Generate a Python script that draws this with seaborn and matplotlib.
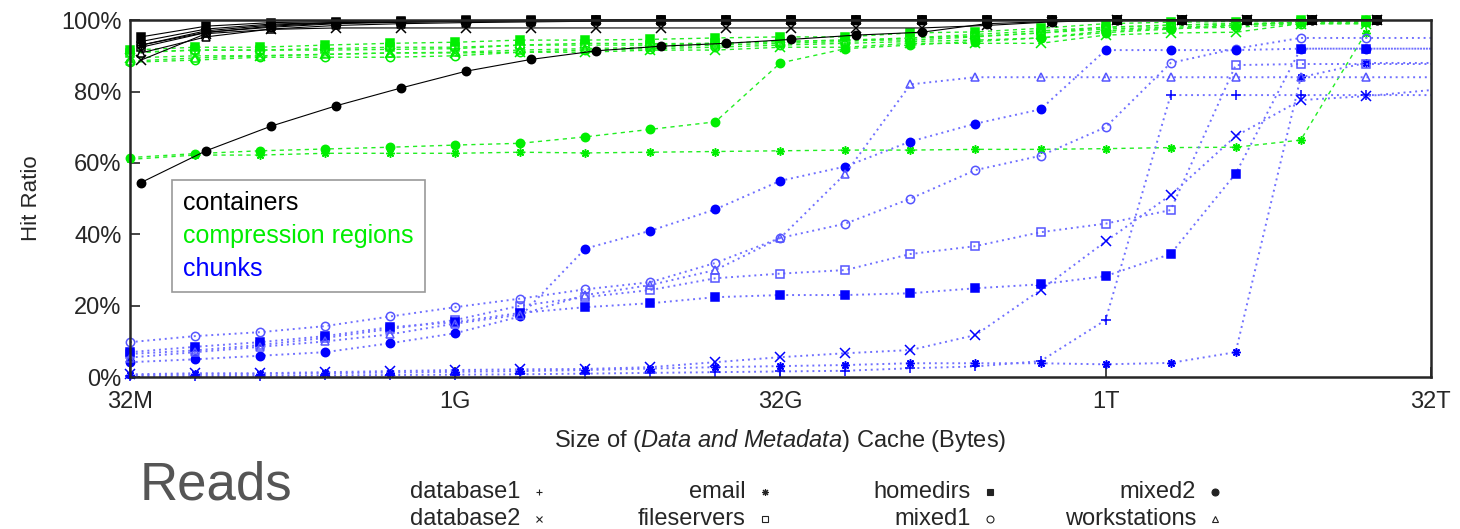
import matplotlib
matplotlib.use("Agg")
import matplotlib.pyplot as plt
import seaborn as sns
import pandas as pd
from matplotlib.lines import Line2D

# x: cache size in bytes, one point per power of two (32M .. 16T)
cache_sizes = [2 ** p for p in range(25, 45)]
edge_size = 2 ** 45                 # chunk curves run on to the right border
container_overhead = 1.125          # container points sit a bit to the right
tick_sizes = [2 ** 25, 2 ** 30, 2 ** 35, 2 ** 40, 2 ** 45]
tick_labels = ["32M", "1G", "32G", "1T", "32T"]
yticks = [0, 20, 40, 60, 80, 100]

workloads = ["database1", "database2", "email", "fileservers",
             "homedirs", "mixed1", "mixed2", "workstations"]

# containers (black)
cont_database1 = [94.0, 97.5, 98.9, 99.3, 99.5, 99.7, 99.8, 99.9, 99.9, 100, 100, 100, 100, 100, 100, 100, 100, 100, 100, 100]
cont_database2 = [88.8, 96.2, 97.4, 97.8, 97.8, 97.8, 97.8, 97.8, 97.8, 97.8, 97.8, 97.8, 97.8, 98.5, 99.5, 100, 100, 100, 100, 100]
cont_email = [93.0, 97.0, 98.6, 99.3, 99.6, 99.8, 99.9, 100, 100, 100, 100, 100, 100, 100, 100, 100, 100, 100, 100, 100]
cont_fileservers = [92.4, 96.5, 98.3, 99.2, 99.5, 99.7, 99.8, 99.9, 100, 100, 100, 100, 100, 100, 100, 100, 100, 100, 100, 100]
cont_homedirs = [95.3, 98.3, 99.3, 99.6, 99.8, 99.9, 100, 100, 100, 100, 100, 100, 100, 100, 100, 100, 100, 100, 100, 100]
cont_mixed1 = [93.0, 96.6, 98.0, 99.0, 99.4, 99.6, 99.8, 99.9, 100, 100, 100, 100, 100, 100, 100, 100, 100, 100, 100, 100]
cont_mixed2 = [54.5, 63.4, 70.3, 76.0, 81.0, 85.7, 89.0, 91.4, 92.7, 93.5, 94.6, 95.8, 96.6, 99.0, 99.6, 100, 100, 100, 100, 100]
cont_workstations = [90.8, 95.3, 97.5, 98.5, 99.0, 99.3, 99.5, 99.7, 99.8, 99.9, 100, 100, 100, 100, 100, 100, 100, 100, 100, 100]

# compression regions (green)
cr_database1 = [91.0, 91.6, 91.6, 91.6, 91.8, 92.0, 93.0, 93.5, 93.4, 93.5, 94.0, 94.4, 94.4, 95.3, 96.4, 98.0, 98.6, 99.0, 99.0, 99.0]
cr_database2 = [89.4, 90.0, 90.0, 90.4, 90.8, 90.8, 91.0, 91.0, 91.6, 91.6, 92.4, 92.4, 93.5, 93.5, 93.5, 95.8, 96.4, 96.6, 99.0, 99.0]
cr_email = [61.0, 62.2, 62.2, 62.7, 62.7, 62.7, 63.0, 62.8, 63.0, 63.2, 63.4, 63.6, 63.6, 63.8, 63.8, 64.0, 64.3, 64.4, 66.4, 96.4]
cr_fileservers = [90.8, 91.6, 91.6, 92.0, 92.4, 92.4, 93.0, 93.0, 93.0, 93.5, 94.0, 94.4, 95.0, 95.5, 96.4, 97.5, 98.0, 98.6, 99.4, 99.6]
cr_homedirs = [91.6, 92.4, 92.4, 93.0, 93.5, 93.8, 94.4, 94.4, 94.6, 95.0, 95.3, 95.3, 96.4, 96.7, 97.7, 99.0, 99.4, 99.6, 100, 100]
cr_mixed1 = [88.2, 88.8, 89.6, 89.6, 89.6, 90.0, 91.0, 91.6, 92.0, 92.4, 93.0, 93.5, 94.0, 94.4, 95.0, 97.0, 97.7, 98.0, 99.0, 99.4]
cr_mixed2 = [61.5, 62.6, 63.4, 63.9, 64.4, 65.0, 65.5, 67.3, 69.4, 71.5, 88.0, 92.0, 93.0, 94.0, 95.0, 96.5, 97.5, 98.5, 99.5, 100]
cr_workstations = [88.5, 89.4, 90.0, 90.4, 90.8, 91.0, 91.6, 92.0, 92.4, 93.0, 93.5, 94.0, 95.0, 96.0, 97.0, 98.0, 98.6, 99.0, 99.4, 99.6]

# chunks (blue), last value is at the right border
ch_database1 = [0.3, 0.3, 0.4, 0.5, 0.6, 0.7, 0.8, 1.0, 1.2, 1.4, 1.6, 1.8, 2.5, 3.0, 4.5, 16, 79, 79, 79, 79, 79]
ch_database2 = [0.8, 1.1, 1.1, 1.4, 1.7, 2.0, 2.2, 2.3, 2.8, 4.2, 5.6, 6.7, 7.6, 11.8, 24.4, 38, 51, 67.5, 77.6, 78.7, 80.4]
ch_email = [0.6, 0.8, 0.9, 1.1, 1.3, 1.5, 1.7, 2.0, 2.4, 2.8, 3.1, 3.4, 3.9, 3.9, 3.9, 3.6, 4.0, 7.0, 84, 88, 88]
ch_fileservers = [6.5, 7.5, 9.0, 11, 13.5, 16, 20, 22.4, 24.4, 27.7, 29, 30, 34.5, 36.7, 40.6, 43, 46.8, 87.4, 87.7, 87.7, 87.7]
ch_homedirs = [7.0, 8.5, 9.8, 11.5, 14, 15.4, 18, 19.6, 20.7, 22.4, 23, 23, 23.5, 24.9, 26, 28.3, 34.5, 57, 92, 92, 92]
ch_mixed1 = [9.8, 11.5, 12.6, 14.3, 17, 19.6, 22, 24.6, 26.6, 32, 39, 43, 50, 58, 62, 70, 88, 92, 95, 95, 95]
ch_mixed2 = [4.2, 5, 6, 7, 9.5, 12.3, 17, 36, 41, 47, 55, 59, 66, 71, 75, 91.6, 91.6, 91.6, 92, 92, 92]
ch_workstations = [5.5, 7, 8.5, 10, 12, 15, 17.5, 23, 25.8, 30, 39, 57, 82, 84, 84, 84, 84, 84, 84, 84, 84]

containers = [cont_database1, cont_database2, cont_email, cont_fileservers,
              cont_homedirs, cont_mixed1, cont_mixed2, cont_workstations]
regions = [cr_database1, cr_database2, cr_email, cr_fileservers,
           cr_homedirs, cr_mixed1, cr_mixed2, cr_workstations]
chunks = [ch_database1, ch_database2, ch_email, ch_fileservers,
          ch_homedirs, ch_mixed1, ch_mixed2, ch_workstations]

# marker, filled?
marker_style = {
    "database1": ("+", True),
    "database2": ("x", True),
    "email": ((8, 2, 0), True),
    "fileservers": ("s", False),
    "homedirs": ("s", True),
    "mixed1": ("o", False),
    "mixed2": ("o", True),
    "workstations": ("^", False),
}

# long table
rows = []
for name, vals in zip(workloads, containers):
    for s, v in zip(cache_sizes, vals):
        rows.append(("containers", name, s * container_overhead, v))
for name, vals in zip(workloads, regions):
    for s, v in zip(cache_sizes, vals):
        rows.append(("compression regions", name, s, v))
for name, vals in zip(workloads, chunks):
    for s, v in zip(cache_sizes + [edge_size], vals):
        rows.append(("chunks", name, s, v))
df = pd.DataFrame(rows, columns=["group", "workload", "size", "ratio"])

sns.set_style("ticks")
plt.rcParams["font.family"] = ["Liberation Sans Narrow", "Liberation Sans", "DejaVu Sans"]
plt.rcParams["mathtext.fontset"] = "custom"
plt.rcParams["mathtext.rm"] = "Liberation Sans"
plt.rcParams["mathtext.it"] = "Liberation Sans:italic"

fig = plt.figure(figsize=(14.6, 5.29), dpi=100)
ax = fig.add_axes([0.089, 0.287, 0.891, 0.675])

# line colour, marker colour, dash, width
group_style = {
    "compression regions": dict(color="#22ee22", mcolor="#00ee00", linestyle=(0, (3, 3)), lw=1.0),
    "chunks": dict(color="#7070ff", mcolor="#0000ff", linestyle=(0, (1, 2)), lw=1.4),
    "containers": dict(color="#000000", mcolor="#000000", linestyle="-", lw=0.8),
}

for group in ["compression regions", "chunks", "containers"]:
    st = group_style[group]
    for name in workloads:
        sub = df[(df.group == group) & (df.workload == name)]
        mk, filled = marker_style[name]
        kw = {}
        if group == "chunks":
            kw["markevery"] = list(range(len(cache_sizes)))
        mc = st["mcolor"]
        if group == "chunks" and not filled:
            mc = "#5555ff"
        sns.lineplot(data=sub, x="size", y="ratio", ax=ax, estimator=None,
                     color=st["color"], linestyle=st["linestyle"], linewidth=st["lw"],
                     marker=mk, markersize=7 if mk in ("+", "x") else 6,
                     markerfacecolor=mc if filled else "none",
                     markeredgecolor=mc, markeredgewidth=1.1,
                     clip_on=False, legend=False, **kw)

ax.set_xscale("log", base=2)
ax.set_xlim(2 ** 25, 2 ** 45)
ax.set_ylim(0, 100)
ax.set_xticks(tick_sizes)
ax.set_xticklabels(tick_labels)
ax.minorticks_off()
ax.set_yticks(yticks)
ax.set_yticklabels([f"{v}%" for v in yticks])
ax.tick_params(direction="in", length=7, width=1.2, labelsize=17)
ax.tick_params(axis="x", pad=10)
ax.tick_params(axis="y", pad=6)
for sp in ax.spines.values():
    sp.set_linewidth(1.8)
    sp.set_visible(True)

ax.set_ylabel("Hit Ratio", fontsize=16, labelpad=14)
ax.set_xlabel(r"Size of $\mathit{(Data\ and\ Metadata)}$ Cache (Bytes)", fontsize=17, labelpad=10)

# group legend inside the plot
blank = [Line2D([], [], linestyle="none") for _ in range(3)]
leg = ax.legend(blank, ["containers", "compression regions", "chunks"],
                labelcolor=["#000000", "#00ee00", "#0000ff"],
                loc="upper left", bbox_to_anchor=(0.032, 0.552), fontsize=18,
                handlelength=0, handletextpad=0, labelspacing=0.35,
                borderpad=0.45, borderaxespad=0, fancybox=False, framealpha=1)
leg.get_frame().set_edgecolor("#999999")
leg.get_frame().set_linewidth(1.2)

# caption and workload key under the plot
fig.text(140 / 1460, 1 - 485 / 529, "Reads", fontsize=38, color="#555555",
         ha="left", va="center", family=["Liberation Sans", "DejaVu Sans"])

text_right = [520, 746, 971, 1196]
row_y = [492, 519]
for k, name in enumerate(workloads):
    col, row = k // 2, k % 2
    xr = text_right[col] / 1460
    yy = 1 - row_y[row] / 529
    fig.text(xr, yy, name, fontsize=17, ha="right", va="center")
    mk, filled = marker_style[name]
    fig.add_artist(Line2D([xr + 19 / 1460], [yy], marker=mk, markersize=5,
                          markerfacecolor="#222222" if filled else "none",
                          markeredgecolor="#222222", markeredgewidth=0.8,
                          linestyle="none", transform=fig.transFigure))

fig.savefig("out.png", dpi=100)
